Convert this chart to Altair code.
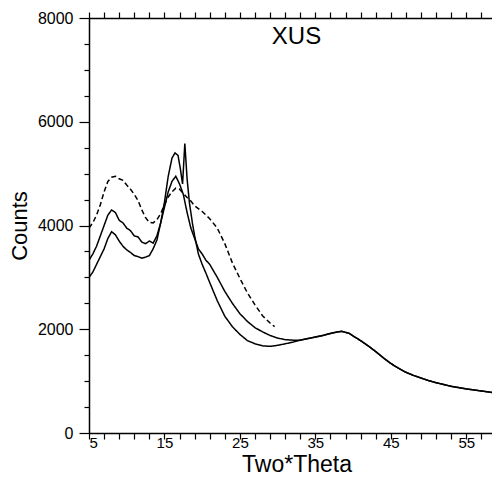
import altair as alt
import pandas as pd

# ---- data ----
dash_x = [5, 5.5, 6, 6.5, 7, 7.5, 8, 8.5, 9, 9.5, 10, 10.5, 11, 11.5, 12, 12.5, 13, 13.5,
          14, 14.5, 15, 15.5, 16, 16.5, 17, 17.5, 18, 18.5, 19, 20, 21, 22, 23, 24, 25,
          26, 27, 28, 29, 29.6]
dash_y = [3950, 4050, 4200, 4400, 4650, 4850, 4930, 4950, 4900, 4870, 4780, 4700, 4600,
          4480, 4300, 4150, 4060, 4050, 4110, 4230, 4400, 4550, 4650, 4720, 4700, 4620,
          4540, 4470, 4380, 4270, 4130, 3950, 3650, 3280, 2980, 2700, 2470, 2260, 2120, 2050]

mid_x = [5, 5.5, 6, 6.5, 7, 7.5, 8, 8.5, 9, 9.5, 10, 10.5, 11, 11.5, 12, 12.5, 13, 13.5,
         14, 14.5, 15, 15.5, 16, 16.5, 17, 17.5, 18, 18.5, 19, 19.5, 20, 20.5, 21, 22,
         23, 24, 25, 26, 27, 28, 29, 30, 31, 32]
mid_y = [3330, 3450, 3600, 3800, 4000, 4200, 4300, 4250, 4100, 4050, 3950, 3900, 3800,
         3780, 3680, 3650, 3700, 3660, 3800, 4050, 4350, 4650, 4850, 4950, 4800, 4600,
         4250, 3950, 3750, 3550, 3450, 3330, 3250, 3000, 2730, 2500, 2300, 2150, 2030,
         1950, 1880, 1830, 1800, 1790]

low_x = [5, 5.5, 6, 6.5, 7, 7.5, 8, 8.5, 9, 9.5, 10, 10.5, 11, 11.5, 12, 12.5, 13, 13.5,
         14, 14.5, 15, 15.5, 16, 16.4, 16.8, 17.1, 17.4, 17.7, 18.0, 18.3, 18.7, 19, 19.5,
         20, 20.5, 21, 22, 23, 24, 25, 26, 27, 28, 29, 30, 31, 32]
low_y = [3000, 3100, 3250, 3400, 3550, 3750, 3880, 3820, 3700, 3600, 3530, 3480, 3420,
         3400, 3370, 3390, 3420, 3550, 3720, 4050, 4450, 4950, 5300, 5400, 5350, 5100,
         4800, 5580, 4900, 4450, 4050, 3800, 3450, 3250, 3080, 2900, 2550, 2250, 2050,
         1900, 1780, 1720, 1680, 1670, 1690, 1720, 1750]

tail_x = [33, 34, 35, 36, 37, 38, 38.5, 39, 39.5, 40, 41, 42, 43, 44, 45, 46, 47, 48, 49,
          50, 51, 52, 53, 54, 55, 56, 57, 58, 59, 60]
tail_y = [1790, 1820, 1850, 1880, 1920, 1950, 1960, 1940, 1920, 1870, 1780, 1680, 1570,
          1450, 1340, 1250, 1170, 1110, 1060, 1010, 970, 935, 900, 875, 850, 830, 810,
          790, 770, 750]

x_ticks = list(range(5, 60, 2))
y_ticks = list(range(0, 8001, 500))

rows = []
for x, y in zip(dash_x, dash_y):
    rows.append({"x": x, "y": y, "s": "dashed"})
for x, y in zip(mid_x + tail_x, mid_y + tail_y):
    rows.append({"x": x, "y": y, "s": "mid"})
for x, y in zip(low_x + tail_x, low_y + tail_y):
    rows.append({"x": x, "y": y, "s": "low"})
df = pd.DataFrame(rows)

FONT = "Liberation Sans"

xscale = alt.Scale(domain=[5, 60], nice=False, zero=False)
yscale = alt.Scale(domain=[0, 8000], nice=False)

bottom = alt.Chart(df).mark_line(color="black", strokeWidth=1.5, clip=True).encode(
    x=alt.X("x:Q", scale=xscale,
            axis=alt.Axis(title="Two*Theta", values=x_ticks,
                          labelExpr="(datum.value - 5) % 10 === 0 ? datum.value : ''",
                          tickSize=6, labelPadding=-4, labelFontSize=15,
                          titleFontSize=23, titlePadding=3, grid=False)),
    y=alt.Y("y:Q", scale=yscale,
            axis=alt.Axis(title="Counts", values=y_ticks,
                          labelExpr="datum.value % 2000 === 0 ? datum.value : ''",
                          tickSize={"condition": {"test": "datum.value % 2000 === 0", "value": 10}, "value": 5},
                          labelPadding=6, labelFontSize=16, titleFontSize=22,
                          titlePadding=6, grid=False)),
    strokeDash=alt.StrokeDash("s:N", scale=alt.Scale(domain=["dashed", "mid", "low"],
                                                     range=[[5, 3], [1, 0], [1, 0]]),
                              legend=None),
    detail="s:N",
)

top = alt.Chart(df).mark_point(opacity=0).encode(
    x=alt.X("x:Q", scale=xscale,
            axis=alt.Axis(orient="top", title=None, values=x_ticks, labels=False,
                          tickSize=6, grid=False)),
)

chart = alt.layer(bottom, top).resolve_scale(x="independent").properties(
    width=415, height=415,
    title=alt.TitleParams("XUS", fontSize=24, font=FONT, fontWeight="normal",
                          anchor="middle", offset=-39, color="black"),
    autosize=alt.AutoSizeParams(type="none"),
    padding={"left": 81, "top": 10, "right": -12, "bottom": 47},
).configure_view(stroke=None).configure_axis(
    domainColor="black", tickColor="black", labelColor="black", titleColor="black",
    labelFont=FONT, titleFont=FONT, titleFontWeight="normal", domainWidth=1.5,
    tickWidth=1.2,
)

chart.save("out.html", embed_options={"renderer": "svg", "actions": False})
